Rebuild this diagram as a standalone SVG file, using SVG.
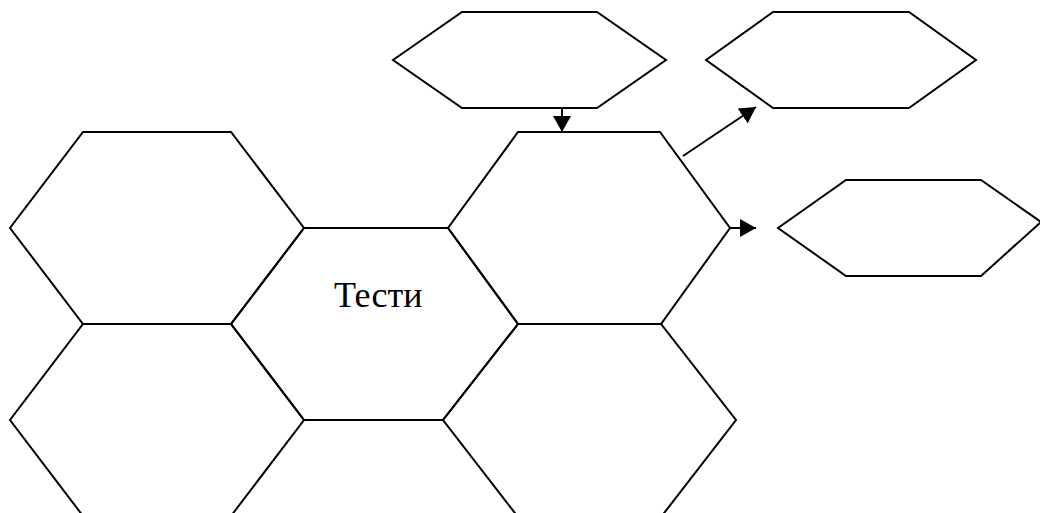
<svg xmlns="http://www.w3.org/2000/svg" width="1040" height="513" viewBox="0 0 1040 513">
<style>
.hex{fill:none;stroke:#000;stroke-width:2;stroke-linejoin:miter}
.conn{fill:none;stroke:#000;stroke-width:2}
.lbl{font-family:"Liberation Serif","Times New Roman",serif;font-size:36px;fill:#000}
</style>
<defs>
<marker id="ah" markerUnits="userSpaceOnUse" markerWidth="17" markerHeight="18" refX="16" refY="9" orient="auto" viewBox="0 0 17 18">
<path d="M0,0 L16,9 L0,18 z" fill="#000"/>
</marker>
</defs>
<rect width="1040" height="513" fill="#fff"/>
<g id="hex-left"><polygon class="hex" points="83,132 231,132 304,228 231,324 83,324 10,228"/></g>
<g id="hex-center"><polygon class="hex" points="304,228 448,228 518,324 443,420 304,420 231,324"/><text class="lbl" x="334" y="307">Тести</text></g>
<g id="hex-upper-right"><polygon class="hex" points="518,132 660,132 730,228 661,324 518,324 448,228"/></g>
<g id="hex-lower-left"><polygon class="hex" points="83,324 231,324 304,420 231,516 83,516 10,420"/></g>
<g id="hex-lower-right"><polygon class="hex" points="518,324 661,324 736,420 661,517 518,517 443,420"/></g>
<g id="hex-top"><polygon class="hex" points="393,60 462,12 597,12 666,60 597,108 462,108"/></g>
<g id="hex-top-right"><polygon class="hex" points="706,60 773,12 909,12 976,60 909,108 773,108"/></g>
<g id="hex-right"><polygon class="hex" points="778,228 846,180 981,180 1041,222 981,276 846,276"/></g>
<g id="connectors">
<line class="conn" x1="562" y1="108" x2="562" y2="132" marker-end="url(#ah)"/>
<line class="conn" x1="683" y1="156" x2="756" y2="107" marker-end="url(#ah)"/>
<line class="conn" x1="730" y1="228" x2="756" y2="228" marker-end="url(#ah)"/>
</g>
</svg>
